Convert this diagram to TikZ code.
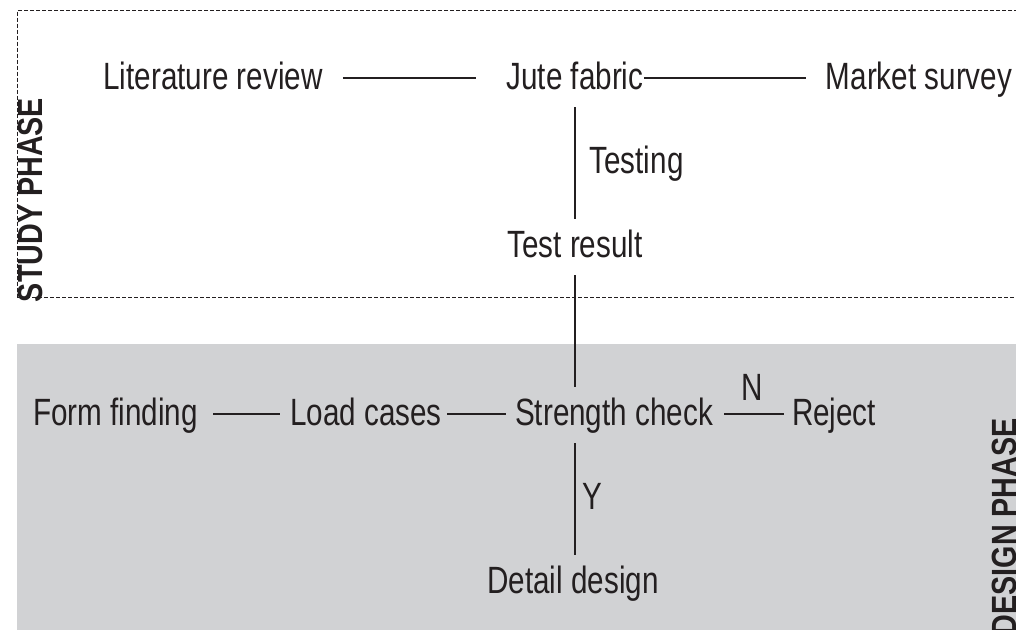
\documentclass[tikz,border=0pt]{standalone}
\usepackage{fontspec}
\setmainfont[FakeStretch=0.78]{Liberation Sans}
\newfontfamily\phasefont[FakeStretch=0.82]{Liberation Sans}
\usetikzlibrary{positioning}
\definecolor{inkgrey}{HTML}{231F20}
\definecolor{designgrey}{HTML}{D1D2D4}

\begin{document}
\begin{tikzpicture}[x=0.5pt,y=-0.5pt,
    stage/.style={inner sep=0pt,text height=11pt,text depth=0pt,anchor=base,
      font=\fontsize{19}{22}\selectfont,text=inkgrey},
    lbl/.style={inner sep=0pt,text height=11pt,text depth=0pt,
      font=\fontsize{19}{22}\selectfont,text=inkgrey},
    link/.style={draw=inkgrey,line width=0.6pt},
    phase/.style={inner sep=0pt,rotate=90,text=inkgrey,
      font=\phasefont\bfseries\fontsize{17.5}{20}\selectfont}]
  \useasboundingbox (0,0) rectangle (1016,629);
  \clip (0,0) rectangle (1016,629);
  % phase areas
  \fill[designgrey] (17,344) rectangle (1030,640);
  \draw[inkgrey,line width=0.5pt,dash pattern=on 2pt off 1pt]
    (1030,10) -- (17.5,10) -- (17.5,297) -- (1030,297);
  \node[phase] (study) at (30.5,200) {STUDY PHASE};
  \node[phase,anchor=east] (design) at (1004.5,418) {DESIGN PHASE};
  % study phase
  \node[stage] (lit) at (213,89) {Literature review};
  \node[stage] (jute) at (575,89) {Jute fabric};
  \node[stage] (market) at (919,89) {Market survey};
  \node[stage] (result) at (575,257) {Test result};
  % design phase
  \node[stage] (form) at (115.5,425) {Form finding};
  \node[stage] (load) at (366,425) {Load cases};
  \node[stage] (check) at (614,425) {Strength check};
  \node[stage] (reject) at (834,425) {Reject};
  \node[stage] (detail) at (573,593) {Detail design};
  % connectors
  \draw[link,shorten <=10pt,shorten >=15pt] (lit.east) -- (jute.west);
  \draw[link,shorten >=10pt] (jute.east) -- (market.west);
  \draw[link,shorten <=9pt,shorten >=8pt] (jute.south) -- node[lbl,right=7pt]{Testing} (result.north);
  \draw[link,shorten <=9pt,shorten >=8pt] (result.south) -- (result.south |- check.north);
  \draw[link,shorten <=7.5pt,shorten >=5pt] (form.east) -- (load.west);
  \draw[link,shorten <=2.5pt,shorten >=4.5pt] (load.east) -- (check.west);
  \draw[link,shorten <=5.5pt,shorten >=4pt] (check.east) -- node[lbl,above=6.5pt]{N} (reject.west);
  \draw[link,shorten <=9pt,shorten >=8pt] (result.south |- check.south) -- node[lbl,right=3.5pt]{Y} (result.south |- detail.north);
\end{tikzpicture}
\end{document}
